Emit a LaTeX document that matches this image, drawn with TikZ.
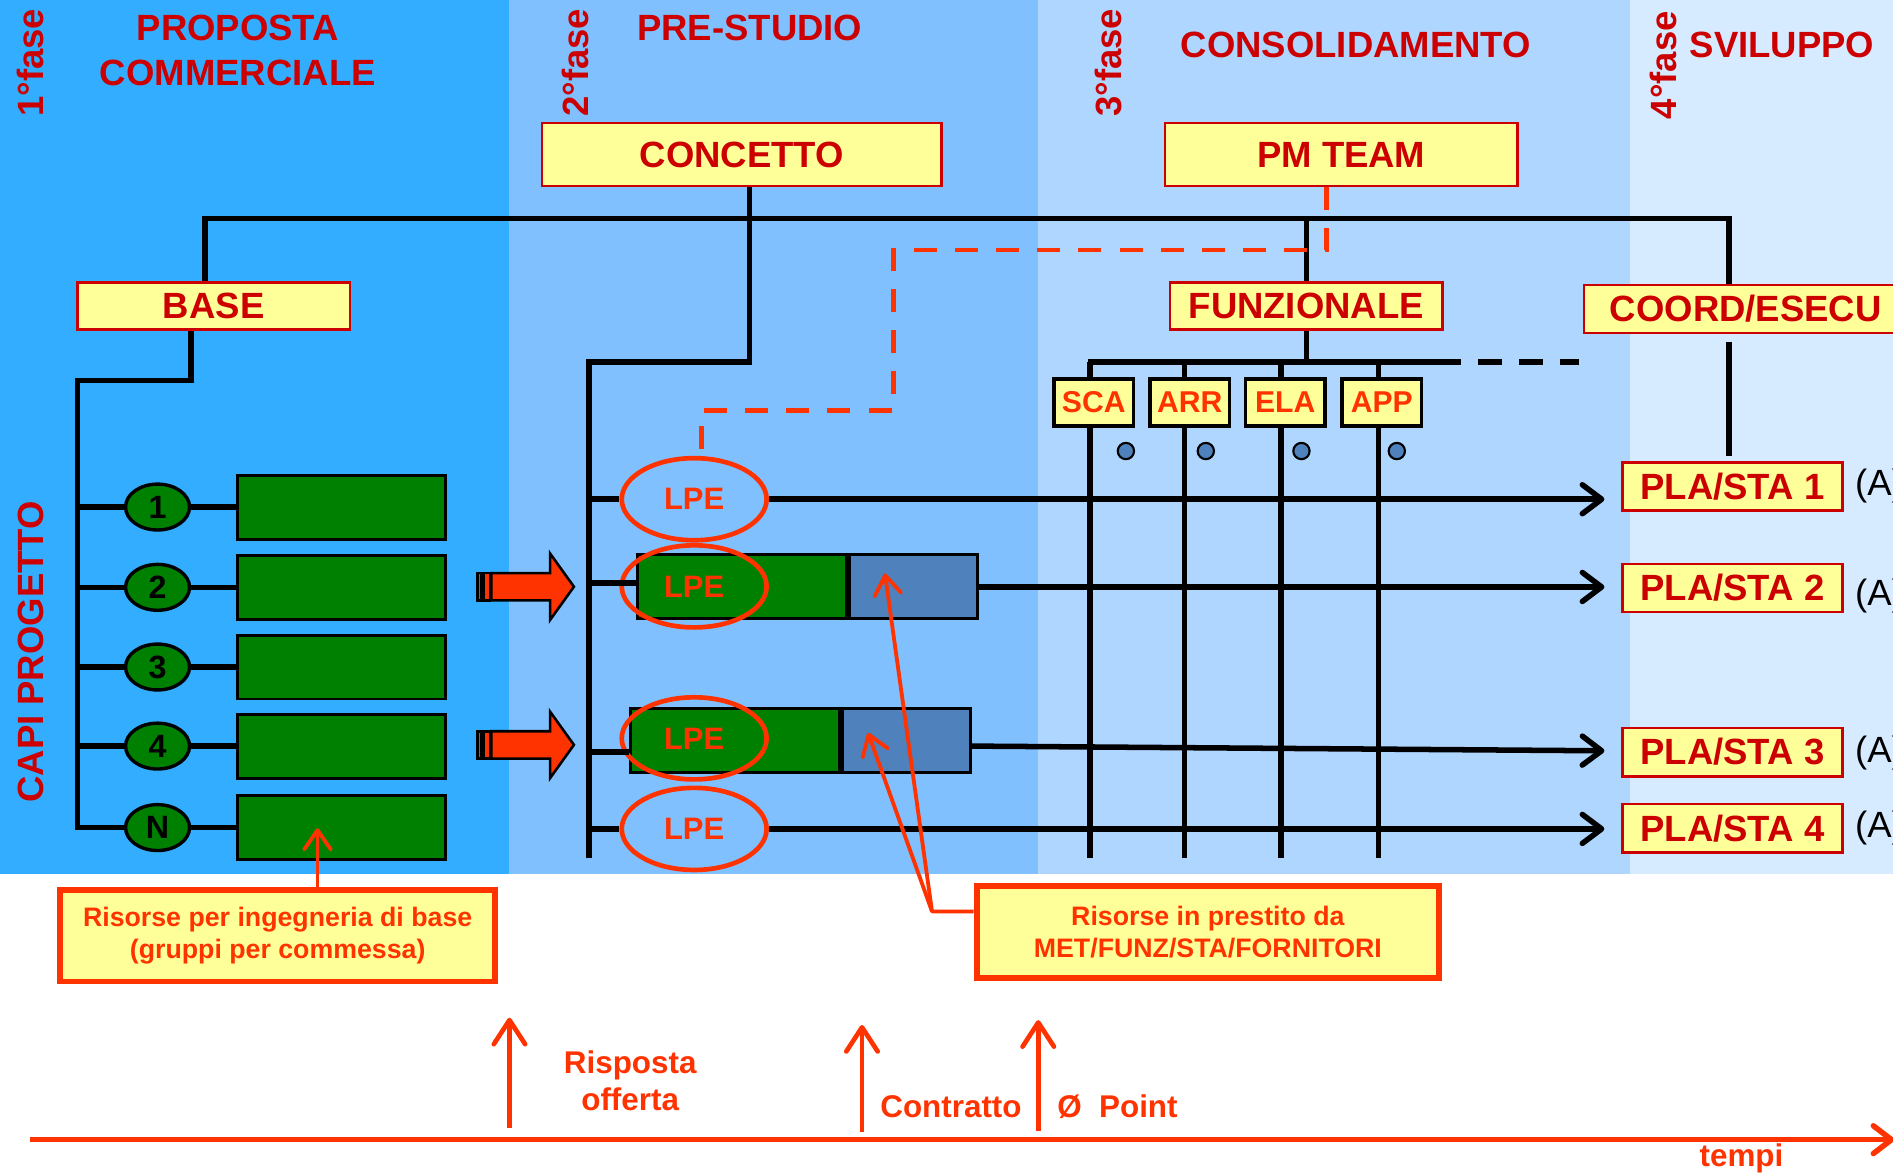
\documentclass[tikz,border=0pt]{standalone}
\usepackage{fontspec}
\setmainfont{Liberation Sans}
\usetikzlibrary{positioning,arrows.meta,shapes.geometric}
\definecolor{titlered}{HTML}{CC0000}
\definecolor{alertred}{HTML}{FF3300}
\definecolor{paleyellow}{HTML}{FFFF99}
\definecolor{teamgreen}{HTML}{008000}
\definecolor{loanblue}{HTML}{4F81BD}
\definecolor{faseA}{HTML}{33ADFF}
\definecolor{faseB}{HTML}{80C0FF}
\definecolor{faseC}{HTML}{AED6FF}
\definecolor{faseD}{HTML}{D6EBFF}

\begin{document}
\begin{tikzpicture}[x=0.1mm, y=-0.1mm, font=\bfseries\fontsize{8.6}{10.5}\selectfont,
  box/.style={draw=titlered, line width=0.6pt, fill=paleyellow, text=titlered, inner sep=0pt},
  unitbox/.style={draw=black, line width=0.8pt, fill=paleyellow, text=alertred, inner sep=0pt, minimum width=6.6mm, minimum height=3.9mm, font=\bfseries\fontsize{7.1}{8}\selectfont},
  capo/.style={ellipse, draw=black, line width=0.8pt, fill=teamgreen, inner sep=0pt, minimum width=5.3mm, minimum height=3.8mm, font=\bfseries\fontsize{7.6}{8}\selectfont},
  team/.style={draw=black, line width=0.7pt, fill=teamgreen, inner sep=0pt, minimum width=17.2mm, minimum height=5.3mm},
  loan/.style={draw=black, line width=0.7pt, fill=loanblue, inner sep=0pt, minimum width=10.6mm, minimum height=5.3mm},
  lpe/.style={ellipse, draw=alertred, line width=1.1pt, inner sep=0pt, minimum width=12mm, minimum height=6.8mm, text=alertred, font=\bfseries\fontsize{7.3}{8}\selectfont},
  notebox/.style={draw=alertred, line width=1.4pt, fill=paleyellow, text=alertred, align=center, inner sep=0pt, font=\bfseries\fontsize{6.3}{7.7}\selectfont},
  titletext/.style={text=titlered, align=center},
  fasetext/.style={titletext, rotate=90},
  eventtext/.style={text=alertred, align=center, font=\bfseries\fontsize{7.4}{8.8}\selectfont},
  dot/.style={circle, draw=black, line width=0.5pt, fill=loanblue, inner sep=0pt, minimum size=1.35mm},
  link/.style={black, line width=1.3pt},
  flow/.style={link, -{Straight Barb[round,length=1.6mm,width=2.4mm]}, shorten >=1.4mm},
  pointer/.style={alertred, line width=0.9pt, -{Straight Barb[round,length=1.6mm,width=2.2mm]}},
  loandash/.style={alertred, line width=1.1pt, dash pattern=on 5.4pt off 4.3pt},
  milestone/.style={alertred, line width=1.1pt, -{Straight Barb[round,length=2mm,width=2.6mm]}}]
  \useasboundingbox (0,0) rectangle (1568,972);
  \clip (0,0) rectangle (1568,972);

  \fill[faseA] (0,0) rectangle (422,724);
  \fill[faseB] (422,0) rectangle (860,724);
  \fill[faseC] (860,0) rectangle (1350,724);
  \fill[faseD] (1350,0) rectangle (1568,724);

  \node[fasetext] (fase1) at (25,52) {1°fase};
  \node[fasetext] (fase2) at (477,52) {2°fase};
  \node[fasetext] (fase3) at (918,52) {3°fase};
  \node[fasetext] (fase4) at (1378,54) {4°fase};
  \node[titletext] (proposta) at (197,42) {PROPOSTA\\COMMERCIALE};
  \node[titletext] (prestudio) at (621,23) {PRE-STUDIO};
  \node[titletext] (consolid) at (1123,37) {CONSOLIDAMENTO};
  \node[titletext] (sviluppo) at (1476,37) {SVILUPPO};
  \node[fasetext] (capi) at (26,540) {CAPI PROGETTO};

  \node[box, minimum width=33.1mm, minimum height=5.2mm] (concetto) at (614.5,128) {CONCETTO};
  \node[box, minimum width=29.2mm, minimum height=5.2mm] (pmteam) at (1111,128) {PM TEAM};
  \node[box, minimum width=22.6mm, minimum height=3.9mm] (base) at (177,253.5) {BASE};
  \node[box, minimum width=22.6mm, minimum height=3.9mm] (funzionale) at (1082,253.5) {FUNZIONALE};
  \node[box, minimum width=26.8mm, minimum height=4mm] (coord) at (1446,256) {COORD/ESECU};
  \foreach \i/\yy in {1/403,2/487,3/623,4/686}
    \node[box, minimum width=18.2mm, minimum height=4mm] (pla\i) at (1435,\yy) {PLA/STA \i};
  \foreach \i/\yy in {1/403,2/494,3/624,4/686}
    \node[anchor=west, inner sep=0pt, font=\mdseries\fontsize{8.6}{10}\selectfont] (nota\i) at (1536,\yy) {(A)};

  \node[unitbox] (sca) at (906,333.5) {SCA};
  \node[unitbox] (arr) at (985.5,333.5) {ARR};
  \node[unitbox] (ela) at (1064.5,333.5) {ELA};
  \node[unitbox] (app) at (1144.5,333.5) {APP};
  \foreach \xx [count=\i] in {932.6,998.8,1078,1157}
    \node[dot] (dot\i) at (\xx,373.6) {};

  \foreach \i/\lab/\yy in {1/1/420,2/2/486.5,3/3/552.5,4/4/618,5/N/685.5} {
    \node[capo] (capo\i) at (130.5,\yy) {\lab};
    \node[team] (team\i) at (283,\yy) {};
  }

  \node[team, minimum width=17.3mm] (green2) at (614.4,486.2) {};
  \node[loan, anchor=west] (loan2) at (green2.east) {};
  \node[team, minimum width=17.3mm] (green3) at (608.8,613.7) {};
  \node[loan, anchor=west] (loan3) at (green3.east) {};
  \foreach \i/\yy in {1/413.5,2/485.7,3/611.6,4/686.6}
    \node[lpe] (lpe\i) at (575,\yy) {LPE};

  \foreach \yy in {486,617} {
    \filldraw[fill=alertred, draw=black, line width=0.6pt]
      (407,\yy-11.3) -- (455.6,\yy-11.3) -- (455.6,\yy-27.6) -- (475.4,\yy)
      -- (455.6,\yy+27.6) -- (455.6,\yy+11.3) -- (407,\yy+11.3) -- cycle;
    \filldraw[fill=alertred, draw=black, line width=0.6pt] (400.3,\yy-11.3) rectangle (406,\yy+11.3);
    \filldraw[fill=alertred, draw=black, line width=0.6pt] (395.3,\yy-11.3) rectangle (399,\yy+11.3);
  }

  \node[notebox, minimum width=36mm, minimum height=7.6mm] (note1) at (230,775) {Risorse per ingegneria di base\\(gruppi per commessa)};
  \node[notebox, minimum width=38.3mm, minimum height=7.6mm] (note2) at (1000.5,772) {Risorse in prestito da\\MET/FUNZ/STA/FORNITORI};

  \coordinate (busL) at (170,181);
  \coordinate (busR) at (1432,181);
  \draw[link] (base.north -| busL) -- (busL) -- (busR) -- (coord.north -| busR);
  \draw[link] (funzionale.north) -- (funzionale.north |- busL);
  \draw[link, shorten <=0.6mm, shorten >=0.4mm] (coord.south -| busR) -- (pla1.north -| busR);

  \coordinate (capiTop) at (64,315);
  \draw[link] (base.south -| 158,0) |- (capiTop) |- (capo5.west);
  \foreach \i in {1,...,4}
    \draw[link] (capo\i.west -| capiTop) -- (capo\i.west);
  \foreach \i in {1,...,5}
    \draw[link] (capo\i.east) -- (team\i.west);

  \coordinate (lpeTop) at (488,300);
  \coordinate (lpeBot) at (488,711);
  \draw[link] ([xshift=0.65mm]concetto.south) |- (lpeTop) -- (lpeBot);
  \draw[link] (lpe1.west -| lpeTop) -- (lpe1.west);
  \draw[link] (lpeTop |- 0,483) -- (green2.west |- 0,483);
  \draw[link] (lpeTop |- 0,623) -- (green3.west |- 0,623);
  \draw[link] (lpe4.west -| lpeTop) -- (lpe4.west);

  \coordinate (funL) at (901,300);
  \coordinate (funR) at (1190,300);
  \coordinate (funE) at (1308,300);
  \draw[link] (funzionale.south) -- (funzionale.south |- funL);
  \draw[link] (funL) -- (funR);
  \draw[link, dash pattern=on 5.7pt off 4pt] (funR) -- (funE);
  \foreach \u/\xx in {sca/903,arr/981,ela/1061,app/1142} {
    \draw[link] (\xx,300) -- (\u.north -| \xx,0);
    \draw[link] (\u.south -| \xx,0) -- (\xx,711);
  }

  \draw[flow] (lpe1.east) -- (lpe1.east -| pla1.west);
  \draw[flow] (loan2.east) -- (loan2.east -| pla2.west);
  \draw[flow] (loan3.east |- 0,618) -- (pla3.west |- 0,622);
  \draw[flow] (lpe4.east) -- (lpe4.east -| pla4.west);

  \draw[loandash] (pmteam.south -| 1099,0) |- (740,207) |- (581,340) -- (lpe1.north -| 581,0);

  \coordinate (corner) at (772,755);
  \coordinate (tipA) at (733,475);
  \coordinate (tipB) at (719,607);
  \coordinate (tipC) at (263,686);
  \draw[pointer, line join=round] (note2.west |- corner) -- (corner) -- (tipA);
  \draw[pointer] (corner) -- (tipB);
  \draw[pointer] (note1.north -| tipC) -- (tipC);

  \coordinate (t0) at (25,944);
  \coordinate (t1) at (1569,944);
  \draw[alertred, line width=1.3pt, -{Straight Barb[round,length=1.5mm,width=2.3mm]}] (t0) -- (t1);
  \node[eventtext, anchor=base] (tempi) at (1442.5,966) {tempi};

  \coordinate (rispB) at (422,934);
  \coordinate (rispT) at (422,843);
  \coordinate (contB) at (714,938);
  \coordinate (contT) at (714,849);
  \coordinate (zeroB) at (860,937);
  \coordinate (zeroT) at (860,845);
  \draw[milestone] (rispB) -- (rispT);
  \draw[milestone] (contB) -- (contT);
  \draw[milestone] (zeroB) -- (zeroT);
  \node[eventtext] (risposta) at (522,895) {Risposta\\offerta};
  \node[eventtext, anchor=base] (contratto) at (787.7,926) {Contratto};
  \node[eventtext, anchor=base] (zeropoint) at (925.6,926) {Ø\ \ Point};
\end{tikzpicture}
\end{document}
